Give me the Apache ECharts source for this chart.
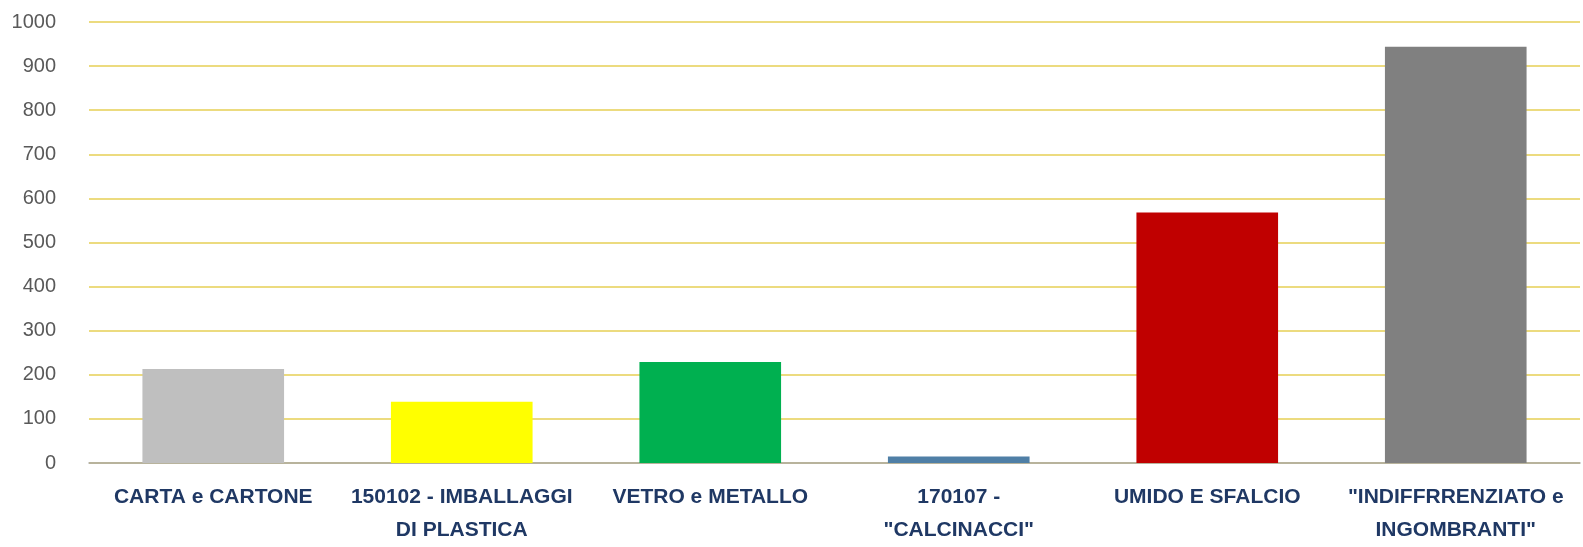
<!DOCTYPE html>
<html>
<head>
<meta charset="utf-8">
<script src="https://cdn.jsdelivr.net/npm/echarts@6/dist/echarts.min.js"></script>
<style>
  html, body { margin: 0; padding: 0; background: #ffffff; overflow: hidden; }
  #chart { width: 1583px; height: 547px; }
</style>
</head>
<body>
<div id="chart"></div>
<script>
const categories = [
  'CARTA e CARTONE',
  '150102 - IMBALLAGGI\nDI PLASTICA',
  'VETRO e METALLO',
  '170107 -\n"CALCINACCI"',
  'UMIDO E SFALCIO',
  '"INDIFFRRENZIATO e\nINGOMBRANTI"'
];
const values = [213, 139, 229, 15, 568, 944];
const barColors = ['#BFBFBF', '#FFFF00', '#00B050', '#4F7FA6', '#C00000', '#808080'];
const yTicks = [0, 100, 200, 300, 400, 500, 600, 700, 800, 900, 1000];

const chart = echarts.init(document.getElementById('chart'));
chart.setOption({
  animation: false,
  backgroundColor: '#ffffff',
  grid: { left: 89, right: 3, top: 22, bottom: 77, containLabel: false },
  xAxis: {
    type: 'category',
    data: categories,
    axisLine: { show: true, lineStyle: { color: '#A6A6A6', width: 1.5 } },
    axisTick: { show: false },
    axisLabel: {
      interval: 0,
      color: '#1F3864',
      fontFamily: '"Liberation Sans", sans-serif',
      fontWeight: 'bold',
      fontSize: 21,
      lineHeight: 33,
      margin: 18
    }
  },
  yAxis: {
    type: 'value',
    min: yTicks[0],
    max: yTicks[yTicks.length - 1],
    interval: 100,
    axisLine: { show: false },
    axisTick: { show: false },
    splitLine: { show: true, lineStyle: { color: '#E6CF55', width: 1.5 } },
    axisLabel: {
      color: '#595959',
      fontFamily: '"Liberation Sans", sans-serif',
      fontSize: 20,
      margin: 33,
      formatter: v => String(v)
    }
  },
  series: [{
    type: 'bar',
    data: values.map((v, i) => ({ value: v, itemStyle: { color: barColors[i] } })),
    barWidth: '57%'
  }]
});
</script>
</body>
</html>
